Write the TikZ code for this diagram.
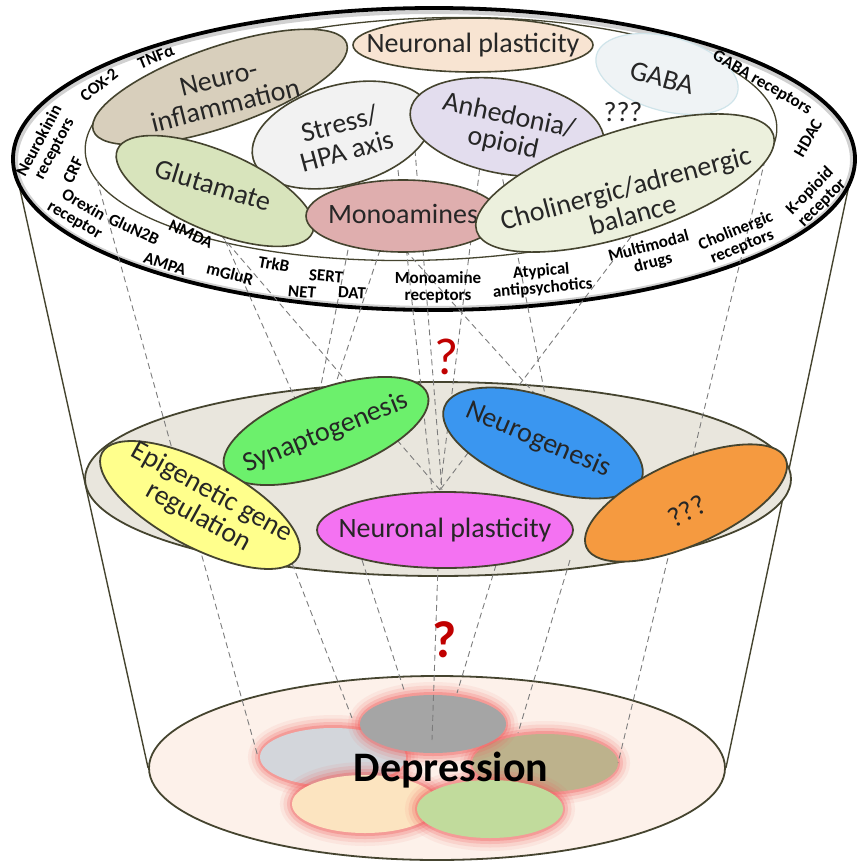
\documentclass[tikz,border=0pt]{standalone}
\usepackage{fontspec}
\setmainfont{Carlito}
\usetikzlibrary{shapes.geometric,positioning}

\definecolor{cEdge}{HTML}{45442F}
\definecolor{cText}{HTML}{262626}
\definecolor{cLink}{HTML}{7C7C7C}
\definecolor{cBase}{HTML}{FDF1EA}
\definecolor{cTray}{HTML}{E9E6DD}
\definecolor{cPeach}{HTML}{F8E4D2}
\definecolor{cGaba}{HTML}{EFF3F5}
\definecolor{cGabaEdge}{HTML}{CFE4EA}
\definecolor{cInflam}{HTML}{D8CFBC}
\definecolor{cStress}{HTML}{F2F2F2}
\definecolor{cAnhed}{HTML}{E3DDEE}
\definecolor{cGlut}{HTML}{D8E4BC}
\definecolor{cMono}{HTML}{DFAEAE}
\definecolor{cCholi}{HTML}{ECF0DD}
\definecolor{cSyn}{HTML}{6CF06C}
\definecolor{cNeuro}{HTML}{3A96F0}
\definecolor{cEpig}{HTML}{FFFF8C}
\definecolor{cPlast}{HTML}{F472F2}
\definecolor{cOrange}{HTML}{F59A40}
\definecolor{cGlow}{HTML}{F05A5A}
\definecolor{cBlobA}{HTML}{D3D6DB}
\definecolor{cBlobB}{HTML}{BDB28C}
\definecolor{cBlobC}{HTML}{A5A5A5}
\definecolor{cBlobD}{HTML}{FCE4C0}
\definecolor{cBlobE}{HTML}{C1DB9C}
\definecolor{cQuery}{HTML}{C00000}

\begin{document}
\begin{tikzpicture}[x=1pt, y=-1pt,
    ell/.style={ellipse, draw=cEdge, line width=1.6pt, inner sep=0pt},
    lbl/.style={font=\fontsize{28}{28}\selectfont, align=center,
                inner sep=0pt, text=cText},
    ringlbl/.style={font=\bfseries\fontsize{17}{17}\selectfont,
                    align=center, inner sep=0pt, text=black},
    link/.style={draw=cLink, line width=0.9pt, dash pattern=on 6pt off 4pt},
    blob/.style={ellipse, inner sep=0pt, minimum width=146pt, minimum height=58pt}
]
\useasboundingbox (0,0) rectangle (858,866);

% cone and base
\coordinate (rimL) at (19,185);
\coordinate (rimR) at (849,185);
\node[ellipse, draw=cEdge, line width=1.8pt, fill=cBase, inner sep=0pt,
      minimum width=576pt, minimum height=184pt] (base) at (437,768) {};
\draw[cEdge, line width=1.4pt] (rimL) -- (base.west);
\draw[cEdge, line width=1.4pt] (rimR) -- (base.east);

% glowing blobs
\foreach \n/\cx/\cy/\col in {blobA/333/757/cBlobA, blobB/545/763/cBlobB,
    blobC/433/724/cBlobC, blobD/365/804/cBlobD, blobE/490/809/cBlobE} {
  \foreach \w/\o in {26/0.08, 19/0.13, 12/0.2, 6/0.32}
    \draw[cGlow, line width=\w pt, opacity=\o] (\cx,\cy) ellipse [x radius=72, y radius=29];
  \node[blob, fill=\col] (\n) at (\cx,\cy) {};
}

% middle tray
\node[ell, line width=1.8pt, fill=cTray, minimum width=706pt,
      minimum height=194pt] (tray) at (438,479) {};

% top rim
\node[ellipse, fill=white, inner sep=0pt, minimum width=842pt,
      minimum height=302pt] (rim) at (434,159) {};
\draw[black!18, line width=4pt] (434,160) ellipse [x radius=418, y radius=148];
\draw[black, line width=3.8pt] (rim.center) ellipse [x radius=421, y radius=151];
\node[ell, line width=1.3pt, fill=white, minimum width=692pt,
      minimum height=242pt, rotate=2] (core) at (431,139) {};

% dashed links
\foreach \s/\e [count=\i] in {{97,180}/{258,757}, {765,160}/{618,763},
    {195,205}/{440,490}, {205,195}/{300,410}, {350,240}/{318,400},
    {380,250}/{327,410}, {398,170}/{432,490}, {415,150}/{442,490},
    {482,150}/{440,490}, {405,250}/{545,405}, {497,150}/{548,410},
    {655,205}/{440,490}, {285,545}/{352,718}, {362,560}/{405,693},
    {438,565}/{432,740}, {496,565}/{457,693}, {570,560}/{518,733}} {
  \coordinate (ls\i) at (\s);
  \coordinate (le\i) at (\e);
  \draw[link] (ls\i) -- (le\i);
}

% top level
\node[ell, fill=cPeach, minimum width=240pt, minimum height=54pt] (plastA) at (473,45) {};
\node[lbl] (plastAT) at (plastA) {Neuronal plasticity};
\node[ellipse, inner sep=0pt, fill=cGaba, draw=cGabaEdge, line width=1.2pt,
      minimum width=146pt, minimum height=74pt, rotate=-15] (gaba) at (667,74) {};
\node[lbl, rotate=-15] (gabaT) at (662,78) {GABA};
\node[lbl] (queryA) at (623,112) {???};
\node[ell, fill=cInflam, minimum width=268pt, minimum height=80pt, rotate=19] (inflam) at (220,87) {};
\node[lbl, rotate=14] (inflamT) at (222,92) {Neuro-\\inflammation};
\node[ell, fill=cStress, minimum width=184pt, minimum height=100pt, rotate=15] (stress) at (342,135) {};
\node[lbl, rotate=15] (stressT) at (343,137) {Stress/\\HPA axis};
\node[ell, fill=cAnhed, minimum width=196pt, minimum height=94pt, rotate=-10] (anhed) at (507,127) {};
\node[lbl, rotate=-12] (anhedT) at (506,130) {Anhedonia/\\opioid};
\node[ell, fill=cGlut, minimum width=212pt, minimum height=80pt, rotate=-23] (glut) at (215,191) {};
\node[lbl, rotate=-17] (glutT) at (213,185) {Glutamate};
\node[ell, fill=cMono, minimum width=194pt, minimum height=72pt] (mono) at (403,216) {};
\node[lbl] (monoT) at (403,214) {Monoamines};
\node[ell, fill=cCholi, minimum width=312pt, minimum height=104pt, rotate=18] (choli) at (625,183) {};
\node[lbl, rotate=15] (choliT) at (629,201) {Cholinergic/adrenergic\\balance};

% middle level
\node[ell, line width=1.8pt, fill=cSyn, minimum width=216pt, minimum height=84pt, rotate=20] (syn) at (326,431) {};
\node[lbl, rotate=22] (synT) at (326,433) {Synaptogenesis};
\node[ell, line width=1.8pt, fill=cNeuro, minimum width=210pt, minimum height=90pt, rotate=-20] (neuro) at (543,443) {};
\node[lbl, rotate=-23] (neuroT) at (538,440) {Neurogenesis};
\node[ell, line width=1.8pt, fill=cEpig, minimum width=222pt, minimum height=84pt, rotate=-28] (epig) at (200,505) {};
\node[lbl, rotate=-29] (epigT) at (205,505) {Epigenetic gene\\regulation};
\node[ell, line width=1.8pt, fill=cPlast, minimum width=256pt, minimum height=76pt] (plastB) at (445,530) {};
\node[lbl] (plastBT) at (plastB) {Neuronal plasticity};
\node[ell, line width=1.8pt, fill=cOrange, minimum width=218pt, minimum height=84pt, rotate=24] (orange) at (686,503) {};
\node[lbl, rotate=28] (orangeT) at (687,511) {???};

% ring labels
\node[ringlbl, rotate=22] (tnf) at (156,57) {TNFα};
\node[ringlbl, rotate=38] (cox) at (99,85) {COX-2};
\node[ringlbl, rotate=62] (nk) at (47,145) {Neurokinin\\receptors};
\node[ringlbl, rotate=65] (crf) at (73,170) {CRF};
\node[ringlbl, rotate=-30] (orx) at (79,213) {Orexin\\receptor};
\node[ringlbl, rotate=-25] (glun) at (134,229) {GluN2B};
\node[ringlbl, rotate=-25] (nmda) at (191,234) {NMDA};
\node[ringlbl, rotate=-18] (ampa) at (165,264) {AMPA};
\node[ringlbl, rotate=-14] (mglu) at (230,274) {mGluR};
\node[ringlbl, rotate=-10] (trkb) at (274,264) {TrkB};
\node[ringlbl, rotate=-5] (sert) at (326,276) {SERT};
\node[ringlbl, rotate=-5] (net) at (302,292) {NET};
\node[ringlbl, rotate=-3] (dat) at (352,293) {DAT};
\node[ringlbl] (monoR) at (438,287) {Monoamine\\receptors};
\node[ringlbl, rotate=5] (atyp) at (542,280) {Atypical\\antipsychotics};
\node[ringlbl, rotate=15] (multi) at (651,255) {Multimodal\\drugs};
\node[ringlbl, rotate=22] (cholR) at (739,239) {Cholinergic\\receptors};
\node[ringlbl, rotate=45] (kop) at (816,197) {K-opioid\\receptor};
\node[ringlbl, rotate=60] (hdac) at (808,138) {HDAC};
\node[ringlbl, rotate=-30] (gabaR) at (762,83) {GABA receptors};

% queries and outcome
\node[font=\fontsize{52}{52}\selectfont, text=cQuery, inner sep=0pt] (queryB) at (447,357) {?};
\node[font=\bfseries\fontsize{52}{52}\selectfont, text=cQuery, inner sep=0pt] (queryC) at (445,640) {?};
\node[font=\bfseries\fontsize{42}{42}\selectfont, inner sep=0pt] (depr) at (451,770) {Depression};

\end{tikzpicture}
\end{document}
